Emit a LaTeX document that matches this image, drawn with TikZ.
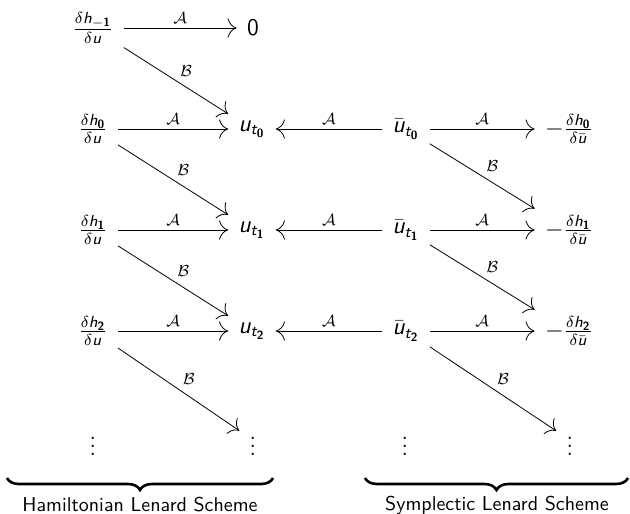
\documentclass[tikz,border=0pt,11pt]{standalone}
\usepackage{amsmath}
\usetikzlibrary{arrows.meta,decorations.pathreplacing}
% sans serif letters and digits in math
\DeclareSymbolFont{sfops}{OT1}{cmss}{m}{n}
\DeclareSymbolFont{sfit}{OT1}{cmss}{m}{sl}
\DeclareMathSymbol{u}{\mathalpha}{sfit}{`u}
\DeclareMathSymbol{h}{\mathalpha}{sfit}{`h}
\DeclareMathSymbol{t}{\mathalpha}{sfit}{`t}
\DeclareMathSymbol{0}{\mathalpha}{sfops}{`0}
\DeclareMathAlphabet{\mathsfbf}{OT1}{cmss}{bx}{n}

\begin{document}
\begin{tikzpicture}[
      x=0.5pt, y=-0.5pt,
      every node/.style={font=\sffamily},
      cell/.style={inner sep=5pt, font=\fontsize{12}{14}\selectfont},
      lab/.style={inner sep=2pt, font=\fontsize{8.5}{10}\selectfont},
      ar/.style={-{Computer Modern Rightarrow[length=1.6mm]}},
      scheme/.style={decorate, decoration={brace, mirror, amplitude=6pt},
                     line width=1.3pt}
    ]
    \useasboundingbox (0,0) rectangle (630,513);
    % top row
    \node[cell] (fm) at (93,28)  {$\frac{\delta h_{-\mathsfbf{1}}}{\delta u}$};
    \node[cell] (zero) at (253,28) {$0$};
    % the three Lenard rows
    \foreach \i/\y in {0/129,1/230,2/331}{
      \node[cell] (f\i)  at (93,\y)  {$\frac{\delta h_{\mathsfbf{\i}}}{\delta u}$};
      \node[cell] (u\i)  at (252,\y) {$u_{t_{\mathsfbf{\i}}}$};
      \node[cell] (ub\i) at (406,\y) {$\bar{u}_{t_{\mathsfbf{\i}}}$};
      \node[cell] (g\i)  at (569,\y) {$-\frac{\delta h_{\mathsfbf{\i}}}{\delta \bar{u}}$};
    }
    % dots
    \node[cell] (d1) at (93,440)  {$\vdots$};
    \node[cell] (d2) at (253,440) {$\vdots$};
    \node[cell] (d3) at (405,440) {$\vdots$};
    \node[cell] (d4) at (570,440) {$\vdots$};

    \draw[ar] (fm) -- node[lab, above] {$\mathcal{A}$} (zero);
    \draw[ar] (fm) -- node[lab, above right] {$\mathcal{B}$} (u0);
    \foreach \i in {0,1,2}{
      \draw[ar] (f\i) -- node[lab, above] {$\mathcal{A}$} (u\i);
      \draw[ar] (ub\i) -- node[lab, above] {$\mathcal{A}$} (u\i);
      \draw[ar] (ub\i) -- node[lab, above] {$\mathcal{A}$} (g\i);
    }
    \draw[ar] (f0) -- node[lab, above right] {$\mathcal{B}$} (u1);
    \draw[ar] (f1) -- node[lab, above right] {$\mathcal{B}$} (u2);
    \draw[ar] (f2) -- node[lab, above right] {$\mathcal{B}$} (d2);
    \draw[ar] (ub0) -- node[lab, above right] {$\mathcal{B}$} (g1);
    \draw[ar] (ub1) -- node[lab, above right] {$\mathcal{B}$} (g2);
    \draw[ar] (ub2) -- node[lab, above right] {$\mathcal{B}$} (d4);

    % braces
    \coordinate (h1) at (7,478);
    \coordinate (h2) at (273,478);
    \coordinate (s1) at (365,478);
    \coordinate (s2) at (628,478);
    \draw[scheme] (h1) -- (h2);
    \draw[scheme] (s1) -- (s2);
    \node[font=\sffamily\small] (ham) at (140,505) {Hamiltonian Lenard Scheme};
    \node[font=\sffamily\small] (sym) at (497,505) {Symplectic Lenard Scheme};
  \end{tikzpicture}
\end{document}
